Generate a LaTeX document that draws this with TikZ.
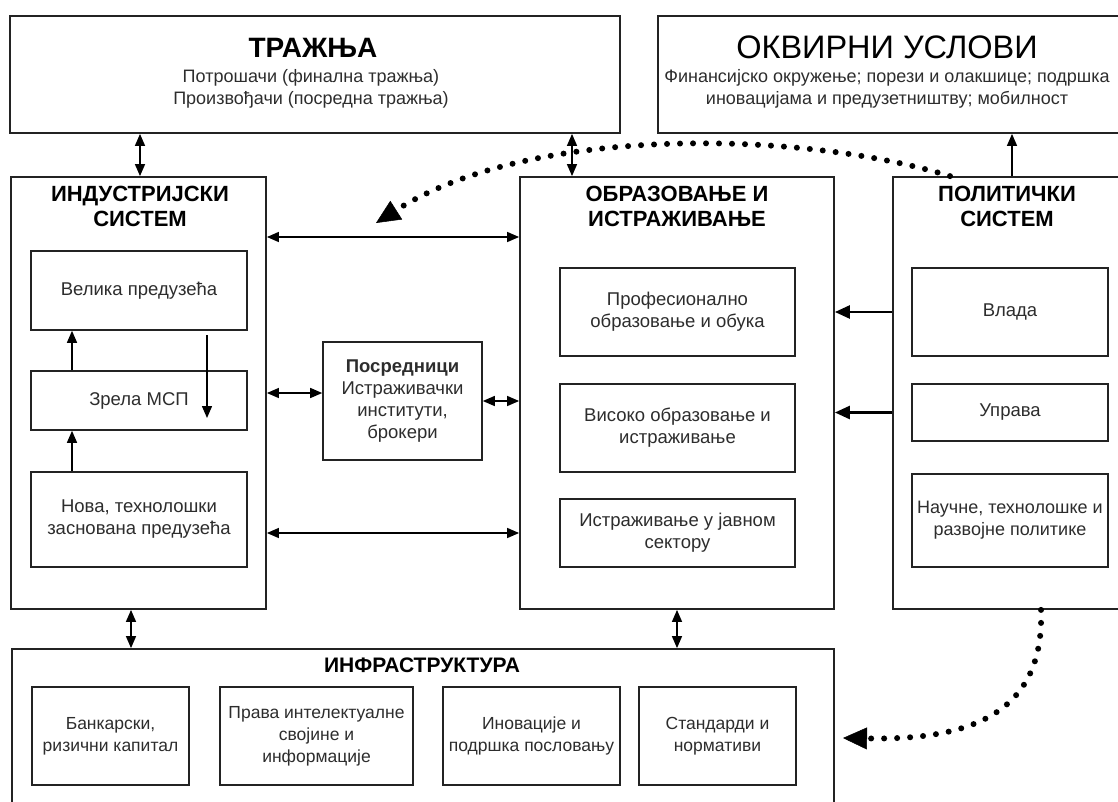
\documentclass[tikz,border=0pt]{standalone}
\usepackage{fontspec}
\setmainfont{Liberation Sans}
\usetikzlibrary{arrows.meta}
\definecolor{ink}{RGB}{35,35,35}
\definecolor{txt}{RGB}{45,45,45}

\begin{document}
\begin{tikzpicture}[x=1pt,y=-1pt,
  frame/.style={draw=ink,line width=1.8pt,inner sep=0pt},
  body/.style={text=txt,align=center,font=\fontsize{18.5}{22}\selectfont},
  head/.style={align=center,font=\bfseries\fontsize{22}{25}\selectfont},
  biarr/.style={line width=1.4pt,{Triangle[length=12pt,width=10pt]}-{Triangle[length=12pt,width=10pt]}},
  arr/.style={line width=1.4pt,-{Triangle[length=12pt,width=10pt]}},
  fatarr/.style={line width=2.6pt,-{Triangle[length=15pt,width=13pt]}},
  dotarr/.style={line width=6pt,line cap=round,dash pattern=on 0pt off 13pt,
    -{Triangle[length=24pt,width=22pt,line width=0.5pt]}}]
\clip (0,0) rectangle (1118,801);
\fill[white] (0,0) rectangle (1118,801);

\coordinate (xa) at (140,0);
\coordinate (xb) at (572,0);
\coordinate (xc) at (1012,0);
\coordinate (xd) at (131,0);
\coordinate (xe) at (72,0);
\coordinate (ya) at (0,237);
\coordinate (yb) at (0,533);
\coordinate (ps) at (950,0);
\coordinate (qs) at (1041,0);
\coordinate (dtop) at (207,335);
\coordinate (dbot) at (207,418);
\coordinate (tipA) at (376,223);
\coordinate (tipB) at (843,738);

% outer boxes
\node[frame,minimum width=610pt,minimum height=117pt] (dem) at (315,74.5) {};
\node[frame,minimum width=464pt,minimum height=117pt] (okv) at (890,74.5) {};
\node[frame,minimum width=255pt,minimum height=432pt] (ind) at (138.5,393) {};
\node[frame,minimum width=314pt,minimum height=432pt] (obr) at (677,393) {};
\node[frame,minimum width=229pt,minimum height=432pt] (pol) at (1007.5,393) {};
\node[frame,minimum width=822pt,minimum height=163pt] (inf) at (423,730.5) {};

% titles
\node[font=\bfseries\fontsize{28}{30}\selectfont] (demT) at (313,48) {ТРАЖЊА};
\node[body,font=\fontsize{18}{22}\selectfont] (demB) at (311,89)
  {Потрошачи (финална тражња)\\Произвођачи (посредна тражња)};
\node[font=\fontsize{32.5}{34}\selectfont] (okvT) at (887,47) {ОКВИРНИ УСЛОВИ};
\node[body,font=\fontsize{18}{22}\selectfont] (okvB) at (887,89)
  {Финансијско окружење; порези и олакшице; подршка\\иновацијама и предузетништву; мобилност};
\node[head] (indT) at (140,206.5) {ИНДУСТРИЈСКИ\\СИСТЕМ};
\node[head] (obrT) at (677,206.5) {ОБРАЗОВАЊЕ И\\ИСТРАЖИВАЊЕ};
\node[head] (polT) at (1007,206.5) {ПОЛИТИЧКИ\\СИСТЕМ};
\node[head,font=\bfseries\fontsize{21}{24}\selectfont] (infT) at (422,665) {ИНФРАСТРУКТУРА};

% inner boxes
\begin{scope}[every node/.style={frame,body,line width=1.6pt,minimum width=216pt}]
\node[minimum height=79pt] (vel) at (139,290.5) {Велика предузећа};
\node[minimum height=59pt] (zre) at (139,400.5) {Зрела МСП};
\node[minimum height=95pt] (nov) at (139,519.5) {Нова, технолошки\\заснована предузећа};
\end{scope}
\node[frame,body,line width=1.6pt,minimum width=159pt,minimum height=118pt] (pos) at (402.5,401)
  {\textbf{Посредници}\\Истраживачки\\институти,\\брокери};
\begin{scope}[every node/.style={frame,body,line width=1.6pt,minimum width=235pt}]
\node[minimum height=88pt] (pro) at (677.5,312) {Професионално\\образовање и обука};
\node[minimum height=88pt] (vis) at (677.5,428) {Високо образовање и\\истраживање};
\node[minimum height=68pt] (jav) at (677.5,533) {Истраживање у јавном\\сектору};
\end{scope}
\begin{scope}[every node/.style={frame,body,line width=1.6pt,minimum width=196pt}]
\node[minimum height=88pt] (vla) at (1010,312) {Влада};
\node[minimum height=57pt] (upr) at (1010,412.5) {Управа};
\node[minimum height=93pt,font=\fontsize{18}{22}\selectfont] (nau) at (1010,520.5)
  {Научне, технолошке и\\развојне политике};
\end{scope}
\begin{scope}[every node/.style={frame,body,line width=1.6pt,minimum height=98pt,
    font=\fontsize{17.5}{22}\selectfont}]
\node[minimum width=157pt] (ban) at (110.5,736) {Банкарски,\\ризични капитал};
\node[minimum width=193pt] (pra) at (316.5,736) {Права интелектуалне\\својине и\\информације};
\node[minimum width=177pt] (ino) at (531.5,736) {Иновације и\\подршка пословању};
\node[minimum width=157pt] (sta) at (717.5,736) {Стандарди и\\нормативи};
\end{scope}

% connectors
\draw[biarr] (dem.south -| xa) -- (ind.north -| xa);
\draw[biarr] (dem.south -| xb) -- (obr.north -| xb);
\draw[arr] (pol.north -| xc) -- (okv.south -| xc);
\draw[biarr] (ind.south -| xd) -- (inf.north -| xd);
\draw[biarr] (obr.south) -- (inf.north -| obr.south);
\draw[biarr] (ind.east |- ya) -- (obr.west |- ya);
\draw[biarr] (ind.east |- yb) -- (obr.west |- yb);
\draw[biarr] ([yshift=8pt]pos.west -| ind.east) -- ([yshift=8pt]pos.west);
\draw[biarr] (pos.east) -- (pos.east -| obr.west);
\draw[fatarr] (vla.west -| pol.west) -- (vla.west -| obr.east);
\draw[fatarr] (upr.west -| pol.west) -- (upr.west -| obr.east);
\draw[arr] (zre.north -| xe) -- (vel.south -| xe);
\draw[arr] (nov.north -| xe) -- (zre.south -| xe);
\draw[arr] (dtop) -- (dbot);

% dotted feedback
\draw[dotarr] (pol.north -| ps) .. controls (800,130) and (530,125) .. (tipA);
\draw[dotarr] (pol.south -| qs) .. controls (1045,720) and (960,740) .. (tipB);
\end{tikzpicture}
\end{document}
